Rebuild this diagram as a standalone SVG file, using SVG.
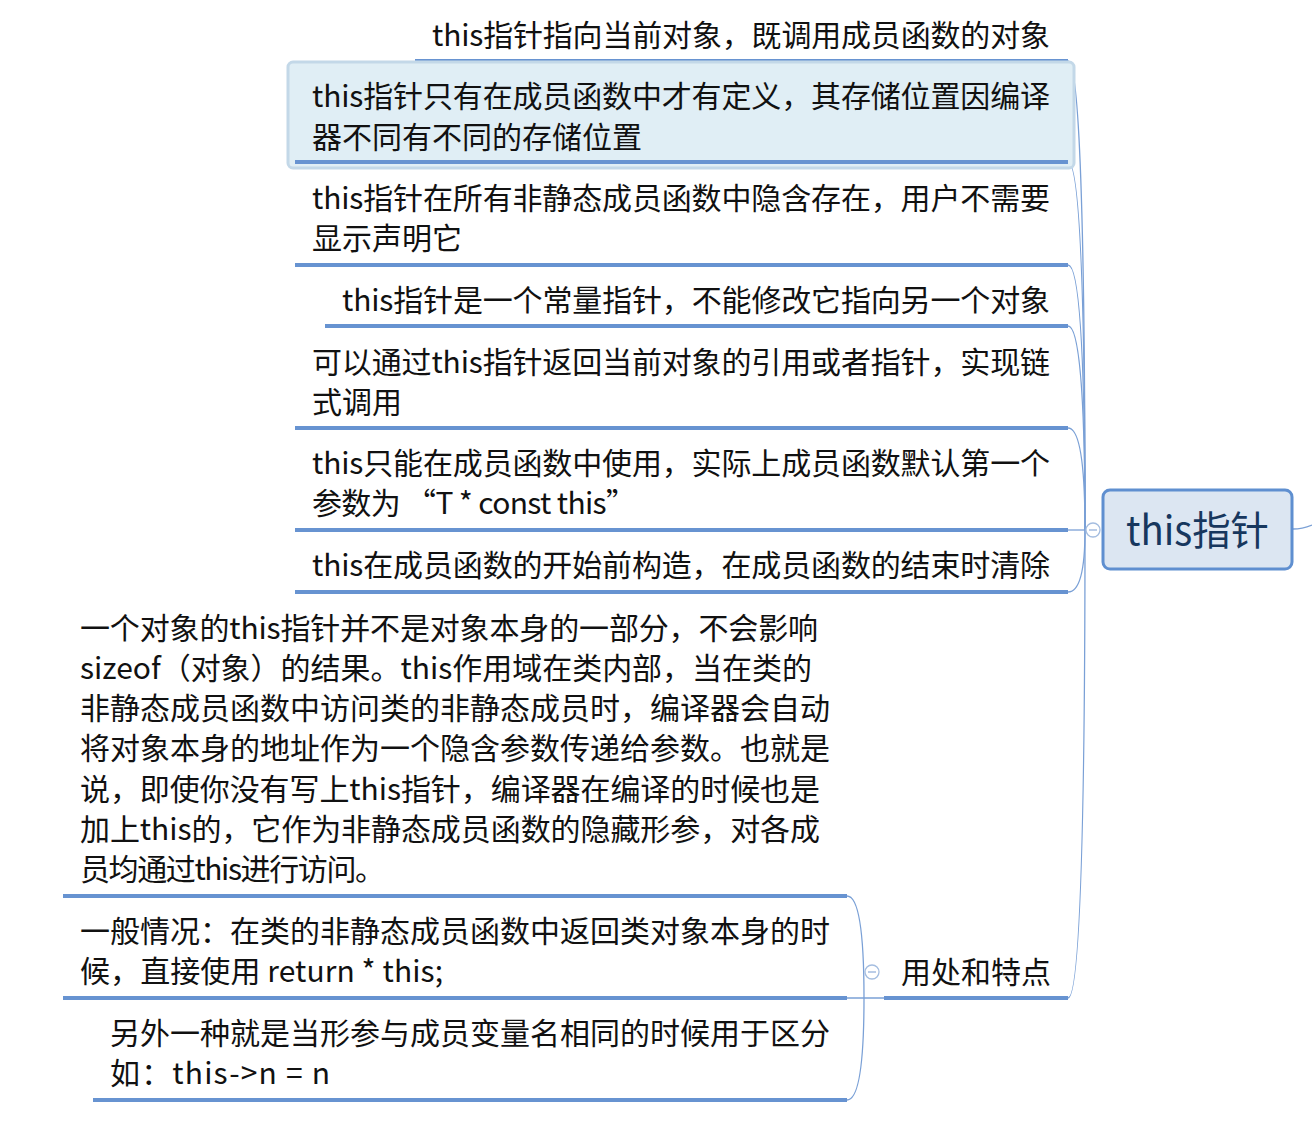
<svg xmlns="http://www.w3.org/2000/svg" width="1312" height="1126" viewBox="0 0 1312 1126">
<style>
.t{font-family:"Noto Sans CJK SC","Noto Sans",sans-serif;font-size:30px;fill:#111;}
.r{font-family:"Noto Sans CJK SC","Noto Sans",sans-serif;font-size:40px;fill:#17375e;}
.ul{stroke:#6793d1;stroke-width:4;fill:none;}
.c{stroke:#7aa0d6;stroke-width:1.3;fill:none;}
.col{fill:#fff;stroke:#a4bde0;stroke-width:1.3;}
.minus{stroke:#a4bde0;stroke-width:1.5;}
</style>
<rect width="1312" height="1126" fill="#fff"/>
<g id="connectors">
<path class="c" d="M1085,530 Q1085,61 1068,61"/>
<path class="c" d="M1085,530 Q1085,162 1068,162"/>
<path class="c" d="M1085,530 Q1085,265 1068,265"/>
<path class="c" d="M1085,530 Q1085,326 1068,326"/>
<path class="c" d="M1085,530 Q1085,428 1068,428"/>
<path class="c" d="M1068,530 L1086,530"/>
<path class="c" d="M1085,530 Q1085,592 1068,592"/>
<path class="c" d="M1085,530 Q1085,998 1068,998"/>
<path class="c" d="M1293,529 Q1302,529 1312,525"/>
<path class="c" d="M847,998 L884,998"/>
<path class="c" d="M864,998 Q864,896 847,896"/>
<path class="c" d="M864,998 Q864,1100 847,1100"/>
</g>
<g id="root">
<rect x="1103" y="490" width="189" height="79" rx="7" fill="#dce6f2" stroke="#5f8fd0" stroke-width="3"/>
<text class="r" x="1126" y="545" textLength="143" lengthAdjust="spacingAndGlyphs">this指针</text>
<circle class="col" cx="1093" cy="530" r="7"/>
<line class="minus" x1="1089" y1="530" x2="1097" y2="530"/>
</g>
<g id="n1">
<text class="t" x="432" y="46" textLength="618">this指针指向当前对象，既调用成员函数的对象</text>
<line class="ul" x1="415" y1="61" x2="1068" y2="61"/>
</g>
<g id="n2">
<rect x="288" y="62" width="786" height="106" rx="5" fill="#e0eef5" stroke="#c3d8e8" stroke-width="3"/>
<text class="t" x="312" y="107" textLength="738">this指针只有在成员函数中才有定义，其存储位置因编译</text>
<text class="t" x="312" y="148">器不同有不同的存储位置</text>
<line class="ul" x1="295" y1="162" x2="1068" y2="162"/>
</g>
<g id="n3">
<text class="t" x="312" y="209" textLength="738">this指针在所有非静态成员函数中隐含存在，用户不需要</text>
<text class="t" x="312" y="249">显示声明它</text>
<line class="ul" x1="295" y1="265" x2="1068" y2="265"/>
</g>
<g id="n4">
<text class="t" x="342" y="311" textLength="708">this指针是一个常量指针，不能修改它指向另一个对象</text>
<line class="ul" x1="325" y1="326" x2="1068" y2="326"/>
</g>
<g id="n5">
<text class="t" x="312" y="373" textLength="738">可以通过this指针返回当前对象的引用或者指针，实现链</text>
<text class="t" x="312" y="413">式调用</text>
<line class="ul" x1="295" y1="428" x2="1068" y2="428"/>
</g>
<g id="n6">
<text class="t" x="312" y="474" textLength="738">this只能在成员函数中使用，实际上成员函数默认第一个</text>
<text class="t" x="312" y="514" textLength="324">参数为  “T * const this”</text>
<line class="ul" x1="295" y1="530" x2="1068" y2="530"/>
</g>
<g id="n7">
<text class="t" x="312" y="576" textLength="738">this在成员函数的开始前构造，在成员函数的结束时清除</text>
<line class="ul" x1="295" y1="592" x2="1068" y2="592"/>
</g>
<g id="n8">
<text class="t" x="901" y="983" textLength="150">用处和特点</text>
<line class="ul" x1="884" y1="998" x2="1068" y2="998"/>
<circle class="col" cx="872" cy="972" r="7"/>
<line class="minus" x1="868" y1="972" x2="876" y2="972"/>
</g>
<g id="n8a">
<text class="t" x="80" y="639" textLength="738">一个对象的this指针并不是对象本身的一部分，不会影响</text>
<text class="t" x="80" y="679" textLength="732">sizeof（对象）的结果。this作用域在类内部，当在类的</text>
<text class="t" x="80" y="719" textLength="750">非静态成员函数中访问类的非静态成员时，编译器会自动</text>
<text class="t" x="80" y="759" textLength="750">将对象本身的地址作为一个隐含参数传递给参数。也就是</text>
<text class="t" x="80" y="800" textLength="740">说，即使你没有写上this指针，编译器在编译的时候也是</text>
<text class="t" x="80" y="840" textLength="740">加上this的，它作为非静态成员函数的隐藏形参，对各成</text>
<text class="t" x="80" y="880" textLength="305">员均通过this进行访问。</text>
<line class="ul" x1="63" y1="896" x2="847" y2="896"/>
</g>
<g id="n8b">
<text class="t" x="80" y="942" textLength="750">一般情况：在类的非静态成员函数中返回类对象本身的时</text>
<text class="t" x="80" y="982" textLength="363">候，直接使用 return * this;</text>
<line class="ul" x1="63" y1="998" x2="847" y2="998"/>
</g>
<g id="n8c">
<text class="t" x="110" y="1044" textLength="720">另外一种就是当形参与成员变量名相同的时候用于区分</text>
<text class="t" x="110" y="1084" textLength="220">如：this-&gt;n = n</text>
<line class="ul" x1="93" y1="1100" x2="847" y2="1100"/>
</g>
</svg>
